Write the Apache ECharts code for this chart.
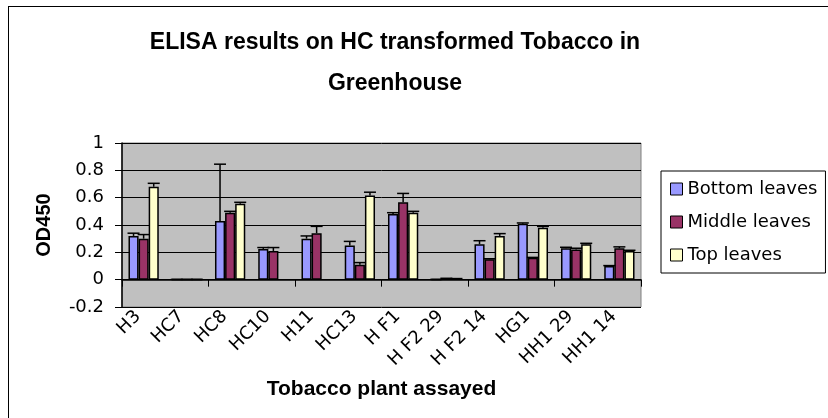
<!DOCTYPE html>
<html lang="en">
<head>
    <meta charset="UTF-8">
    <title>ELISA results</title>
    <script src="https://cdn.jsdelivr.net/npm/echarts@6/dist/echarts.min.js"></script>
    <style>
        html, body { margin: 0; padding: 0; background: #fff; }
        #chart { width: 828px; height: 418px; }
    </style>
</head>
<body>
<div id="chart"></div>
<script>
    // categories and values
    var plants = ['H3', 'HC7', 'HC8', 'HC10', 'H11', 'HC13', 'H F1', 'H F2 29', 'H F2 14', 'HG1', 'HH1 29', 'HH1 14'];
    var bottomLeaves = [0.32, 0.002, 0.43, 0.225, 0.30, 0.25, 0.48, 0.002, 0.26, 0.41, 0.23, 0.10];
    var middleLeaves = [0.30, 0.002, 0.49, 0.21, 0.34, 0.11, 0.566, 0.008, 0.15, 0.16, 0.22, 0.23];
    var topLeaves = [0.68, 0.002, 0.555, null, null, 0.615, 0.49, 0.008, 0.32, 0.38, 0.26, 0.21];
    // plus error amounts
    var bottomErr = [0.02, 0, 0.415, 0.01, 0.02, 0.03, 0.01, 0, 0.025, 0.005, 0.007, 0.003];
    var middleErr = [0.03, 0, 0.01, 0.025, 0.05, 0.015, 0.065, 0.002, 0.003, 0.003, 0.01, 0.01];
    var topErr = [0.025, 0, 0.011, null, null, 0.025, 0.01, 0, 0.017, 0.01, 0.006, 0.005];
    var seriesNames = ['Bottom leaves', 'Middle leaves', 'Top leaves'];
    var seriesColors = ['#9999FF', '#993366', '#FFFFCC'];

    var groups = [bottomLeaves, middleLeaves, topLeaves];
    var errs = [bottomErr, middleErr, topErr];
    var catGap = 0.3;

    var regular = '"DejaVu Sans", sans-serif';
    var bold = '"Liberation Sans", Arial, sans-serif';

    function errData(k) {
        return plants.map(function (p, i) {
            return [i, groups[k][i], errs[k][i]];
        });
    }

    function errRender(k) {
        return function (params, api) {
            var v = api.value(1), e = api.value(2);
            if (isNaN(v) || isNaN(e) || v == null) return null;
            var base = api.coord([api.value(0), v]);
            var tip = api.coord([api.value(0), v + e]);
            var band = api.size([1, 0])[0];
            var x = base[0] + (k - 1) * band * (1 - catGap) / 3;
            var st = { stroke: '#000', lineWidth: 1.5 };
            return {
                type: 'group',
                children: [
                    { type: 'line', shape: { x1: x, y1: base[1], x2: x, y2: tip[1] }, style: st },
                    { type: 'line', shape: { x1: x - 6, y1: tip[1], x2: x + 6, y2: tip[1] }, style: st }
                ]
            };
        };
    }

    var series = [];
    seriesNames.forEach(function (name, k) {
        series.push({
            name: name,
            type: 'bar',
            data: groups[k],
            barGap: '0%',
            barCategoryGap: (catGap * 100) + '%',
            itemStyle: { color: seriesColors[k], borderColor: '#000', borderWidth: 1.5 },
            emphasis: { disabled: true }
        });
    });
    seriesNames.forEach(function (name, k) {
        series.push({
            type: 'custom',
            z: 5,
            data: errData(k),
            renderItem: errRender(k),
            silent: true
        });
    });

    var chart = echarts.init(document.getElementById('chart'));
    chart.setOption({
        animation: false,
        backgroundColor: '#fff',
        color: seriesColors,
        graphic: [
            { type: 'line', shape: { x1: 8.5, y1: 6, x2: 8.5, y2: 418 }, style: { stroke: '#000', lineWidth: 1 } },
            { type: 'line', shape: { x1: 8, y1: 6.5, x2: 828, y2: 6.5 }, style: { stroke: '#000', lineWidth: 1 } },
            {
                type: 'text', x: 395, y: 22,
                style: {
                    text: 'ELISA results on HC transformed Tobacco in\nGreenhouse',
                    font: 'bold 23px ' + bold, fill: '#000',
                    textAlign: 'center', textVerticalAlign: 'top', lineHeight: 41
                }
            }
        ],
        legend: {
            data: seriesNames,
            orient: 'vertical',
            left: 661,
            top: 171,
            padding: [8, 8, 8, 9],
            itemWidth: 12,
            itemHeight: 12,
            itemGap: 13,
            icon: 'rect',
            borderColor: '#000',
            borderWidth: 1,
            backgroundColor: '#fff',
            itemStyle: { borderColor: '#000', borderWidth: 1 },
            textStyle: { fontFamily: regular, fontSize: 18, color: '#000', lineHeight: 20 }
        },
        grid: {
            left: 122, top: 143, right: 187, bottom: 111,
            show: true, backgroundColor: '#C0C0C0', borderColor: '#808080', borderWidth: 1
        },
        xAxis: [{
            type: 'category',
            data: plants,
            name: 'Tobacco plant assayed',
            nameLocation: 'middle',
            nameGap: 72,
            nameTextStyle: { fontFamily: bold, fontWeight: 'bold', fontSize: 21, color: '#000' },
            axisLine: { show: false, onZero: false },
            axisTick: { show: false },
            axisLabel: {
                rotate: 45, interval: 0, margin: 1,
                padding: [0, 8, 16, 0],
                fontFamily: regular, fontSize: 18, color: '#000'
            },
            splitLine: { show: false }
        }, {
            type: 'category',
            data: plants,
            position: 'bottom',
            axisLine: { show: true, onZero: true, lineStyle: { color: '#000', width: 1.5 } },
            axisTick: { show: true, length: 7, lineStyle: { color: '#000', width: 1 } },
            axisLabel: { show: false },
            splitLine: { show: false }
        }],
        yAxis: {
            type: 'value',
            min: -0.2,
            max: 1,
            interval: 0.2,
            name: 'OD450',
            nameLocation: 'middle',
            nameGap: 68,
            nameTextStyle: { fontFamily: bold, fontWeight: 'bold', fontSize: 20, color: '#000' },
            axisLine: { show: true, lineStyle: { color: '#000', width: 1.5 } },
            axisTick: { show: true, length: 7, lineStyle: { color: '#000' } },
            axisLabel: { margin: 18, fontFamily: regular, fontSize: 18, color: '#000' },
            splitLine: { show: true, lineStyle: { color: '#000', width: 1 } }
        },
        series: series
    });
</script>
</body>
</html>
